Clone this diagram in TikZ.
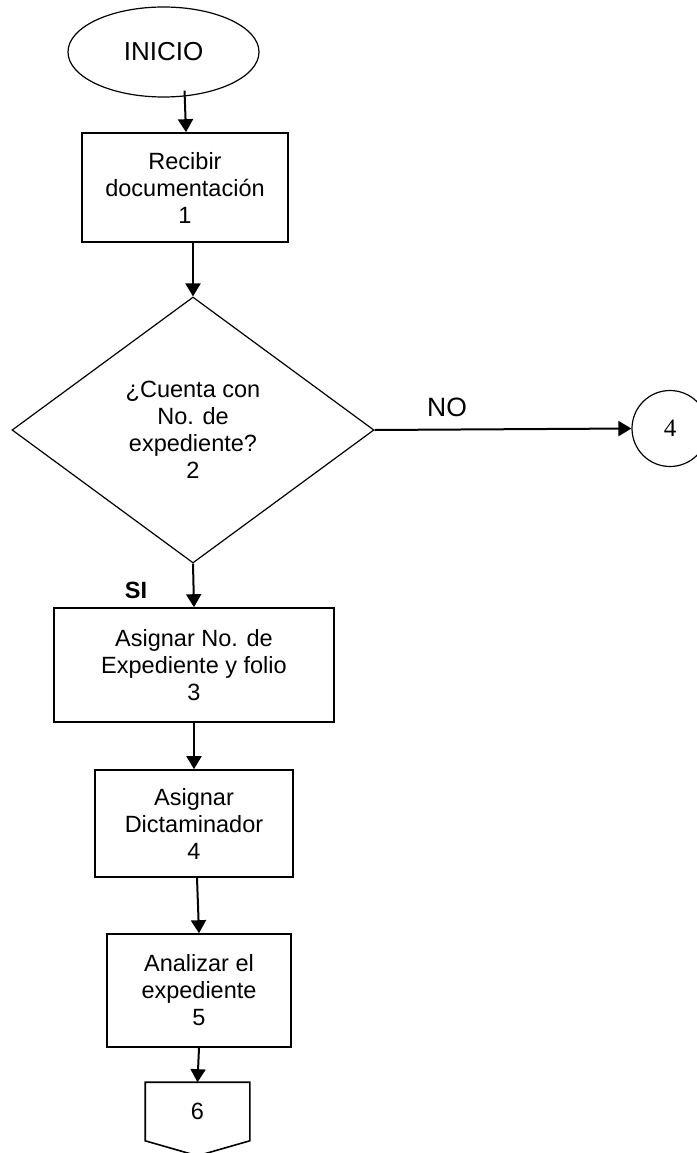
\documentclass[tikz,border=0pt]{standalone}
\usepackage{fontspec}
\setmainfont{Liberation Sans}
\newfontfamily\numfont{Liberation Serif}
\usepackage{tikz}
\usetikzlibrary{shapes.geometric,arrows.meta}
\tikzset{
  fArrow/.style={line width=2pt,-{Triangle[length=13pt,width=15pt]}},
  fBox/.style={draw=black,line width=1.6pt,align=center,inner sep=2pt,
        font=\fontsize{23.5}{27}\selectfont},
  fProc/.style={fBox,rectangle},
  fDec/.style={fBox,diamond,line width=1.2pt,inner sep=0pt},
  fTerm/.style={fBox,ellipse,line width=1.2pt,font=\fontsize{26}{30}\selectfont},
  fConn/.style={fBox,circle,line width=1.2pt,minimum size=76pt,
        font=\numfont\fontsize{25}{29}\selectfont},
  fPage/.style={fBox,draw=none,minimum width=103pt,minimum height=57pt},
  fLabel/.style={font=\fontsize{26.5}{30}\selectfont},
  fLabelB/.style={font=\bfseries\fontsize{23.5}{27}\selectfont},
}

\begin{document}
\begin{tikzpicture}[x=1pt,y=-1pt]
\useasboundingbox (0,0) rectangle (696,1153);
\node[fTerm,minimum width=191pt,minimum height=90pt] (i) at (163.5,52) {INICIO};
\node[fProc,minimum width=206pt,minimum height=109pt] (r) at (185,187.5) {Recibir\\documentación\\1};
\node[fDec,minimum width=362pt,minimum height=266pt] (d) at (193,430) {¿Cuenta con\\No. de\\expediente?\\2};
\node[fConn] (c) at (670,428.5) {4};
\node[fProc,minimum width=280pt,minimum height=114pt] (a) at (194,665) {Asignar No. de\\Expediente y folio\\3};
\node[fProc,minimum width=198pt,minimum height=107pt] (t) at (194,823.5) {Asignar\\Dictaminador\\4};
\node[fProc,minimum width=184pt,minimum height=113pt] (e) at (199,990.5) {Analizar el\\expediente\\5};
\node[fPage] (p) at (197.5,1111.5) {6};
\node[fLabel]  (no) at (447,407) {NO};
\node[fLabelB] (si) at (136,590) {SI};
% off-page connector outline
\draw[line width=1.6pt] (p.north west) -- (p.north east) -- (p.south east)
  -- ([yshift=-15pt]p.south) -- (p.south west) -- cycle;
\draw[fArrow] ([xshift=21pt,yshift=7pt]i.south) -- ([xshift=1pt]r.north);
\draw[fArrow] ([xshift=8pt]r.south) -- (d.north);
\draw[fArrow] (d.east) -- (c.west);
\draw[fArrow] (d.south) -- (a.north);
\draw[fArrow] (a.south) -- (t.north);
\draw[fArrow] ([xshift=3pt]t.south) -- (e.north);
\draw[fArrow] (e.south) -- (p.north);
\end{tikzpicture}
\end{document}
